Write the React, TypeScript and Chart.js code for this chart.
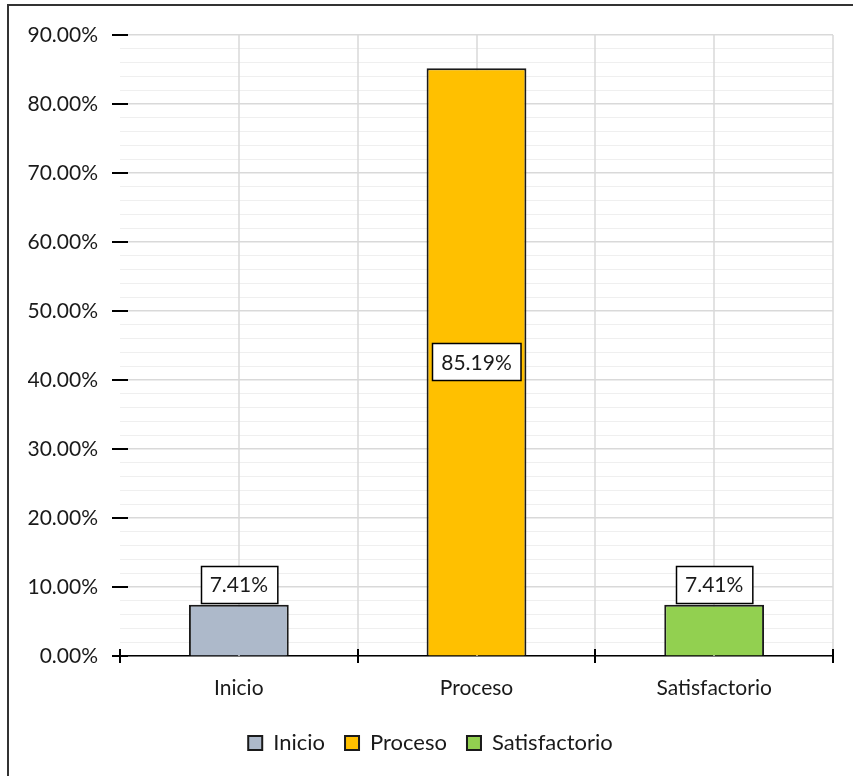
import React, { useEffect, useRef } from "react";
import { Chart, registerables } from "chart.js";

Chart.register(...registerables);

const categories = ["Inicio", "Proceso", "Satisfactorio"];
const values = [7.41, 85.19, 7.41];
const fills = ["#adb9ca", "#ffc000", "#92d050"];
const yTicks = [0, 10, 20, 30, 40, 50, 60, 70, 80, 90];

const FONT = "Lato, 'Open Sans', sans-serif";
const TEXT = "#1a1a1a";

// Vertical grid lines at every category centre and boundary.
const verticalGrid = {
  id: "verticalGrid",
  beforeDatasetsDraw(chart: any) {
    const ctx = chart.ctx;
    const x = chart.scales.x;
    const area = chart.chartArea;
    ctx.save();
    ctx.strokeStyle = "#d9d9d9";
    ctx.lineWidth = 1.5;
    for (let k = 1; k <= categories.length * 2; k++) {
      const px = Math.round(x.getPixelForValue(k / 2 - 0.5));
      ctx.beginPath();
      ctx.moveTo(px, area.top);
      ctx.lineTo(px, area.bottom);
      ctx.stroke();
    }
    ctx.restore();
  },
};

// White boxed value labels: centred inside tall bars, above short ones.
const valueLabels = {
  id: "valueLabels",
  afterDatasetsDraw(chart: any) {
    const ctx = chart.ctx;
    ctx.save();
    ctx.font = `21px ${FONT}`;
    ctx.textAlign = "center";
    ctx.textBaseline = "middle";
    chart.data.datasets.forEach((ds: any, di: number) => {
      const meta = chart.getDatasetMeta(di);
      meta.data.forEach((bar: any, i: number) => {
        const v = ds.data[i];
        if (v == null) return;
        const text = v.toFixed(2) + "%";
        const w = ctx.measureText(text).width + 18;
        const h = 37;
        const barH = bar.base - bar.y;
        let cy: number;
        if (barH > h + 20) cy = (bar.y + bar.base) / 2;
        else cy = bar.y - 2 - h / 2;
        const x0 = Math.round(bar.x - w / 2) + 0.5;
        const y0 = Math.round(cy - h / 2) + 0.5;
        ctx.fillStyle = "#ffffff";
        ctx.fillRect(x0, y0, w, h);
        ctx.strokeStyle = "#000000";
        ctx.lineWidth = 1.5;
        ctx.strokeRect(x0, y0, w, h);
        ctx.fillStyle = TEXT;
        ctx.fillText(text, bar.x, cy + 1);
      });
    });
    ctx.restore();
  },
};

// Cross-shaped tick marks on both axes.
const crossTicks = {
  id: "crossTicks",
  afterDatasetsDraw(chart: any) {
    const ctx = chart.ctx;
    const y = chart.scales.y;
    const x = chart.scales.x;
    const area = chart.chartArea;
    ctx.save();
    ctx.strokeStyle = "#000000";
    ctx.lineWidth = 2;
    yTicks.forEach((t) => {
      const py = Math.round(y.getPixelForValue(t));
      ctx.beginPath();
      ctx.moveTo(area.left - 8, py);
      ctx.lineTo(area.left + 8, py);
      ctx.stroke();
    });
    for (let i = 0; i <= categories.length; i++) {
      const px = Math.round(x.getPixelForValue(i - 0.5));
      ctx.beginPath();
      ctx.moveTo(px, area.bottom - 7);
      ctx.lineTo(px, area.bottom + 7);
      ctx.stroke();
    }
    ctx.restore();
  },
};

export default function App() {
  const ref = useRef<HTMLCanvasElement>(null);

  useEffect(() => {
    if (!ref.current) return;
    const datasets = categories.map((c, i) => ({
      label: c,
      data: categories.map((_, j) => (j === i ? values[i] : null)),
      backgroundColor: fills[i],
      borderColor: "#1a1a1a",
      borderWidth: 2,
      grouped: false,
      categoryPercentage: 1,
      barPercentage: 0.42,
    }));
    const chart = new Chart(ref.current, {
      type: "bar",
      data: { labels: categories, datasets },
      plugins: [verticalGrid, valueLabels, crossTicks],
      options: {
        animation: false,
        responsive: false,
        maintainAspectRatio: false,
        layout: { padding: { top: 35, right: 20, left: 28, bottom: 12 } },
        plugins: {
          tooltip: { enabled: false },
          legend: {
            position: "bottom",
            labels: {
              font: { family: FONT, size: 22 },
              color: TEXT,
              boxWidth: 14,
              boxHeight: 14,
              padding: 20,
            },
          },
        },
        scales: {
          x: {
            grid: { display: false, drawTicks: false },
            border: { display: true, color: "#000000", width: 1.5 },
            ticks: { font: { family: FONT, size: 21 }, color: TEXT, padding: 20 },
            afterFit: (s: any) => {
              s.height = 56;
            },
          },
          ym: {
            type: "linear",
            position: "right",
            min: 0,
            max: 90,
            ticks: { display: false, stepSize: 2 },
            border: { display: false },
            grid: {
              drawTicks: false,
              lineWidth: 1,
              color: (c: any) =>
                c.tick && Math.round(c.tick.value) % 10 === 0 ? "rgba(0,0,0,0)" : "#efefef",
            },
            afterFit: (s: any) => {
              s.width = 0;
            },
          },
          y: {
            min: 0,
            max: 90,
            ticks: {
              stepSize: 10,
              font: { family: FONT, size: 21 },
              color: TEXT,
              padding: 22,
              callback: (v: any) => Number(v).toFixed(2) + "%",
            },
            border: { display: false },
            grid: { color: "#d9d9d9", lineWidth: 1.5, drawTicks: false },
            afterFit: (s: any) => {
              s.width = 92;
            },
          },
        },
      } as any,
    });
    return () => chart.destroy();
  }, []);

  return (
    <div style={{ position: "fixed", left: 0, top: 0, width: 853, height: 776, background: "#fff" }}>
      <canvas ref={ref} width={853} height={776} style={{ position: "absolute", left: 0, top: 0 }} />
      <div
        style={{
          position: "absolute",
          left: 7,
          top: 4,
          width: 860,
          height: 790,
          borderLeft: "2px solid #333",
          borderTop: "2px solid #333",
          pointerEvents: "none",
        }}
      />
    </div>
  );
}
